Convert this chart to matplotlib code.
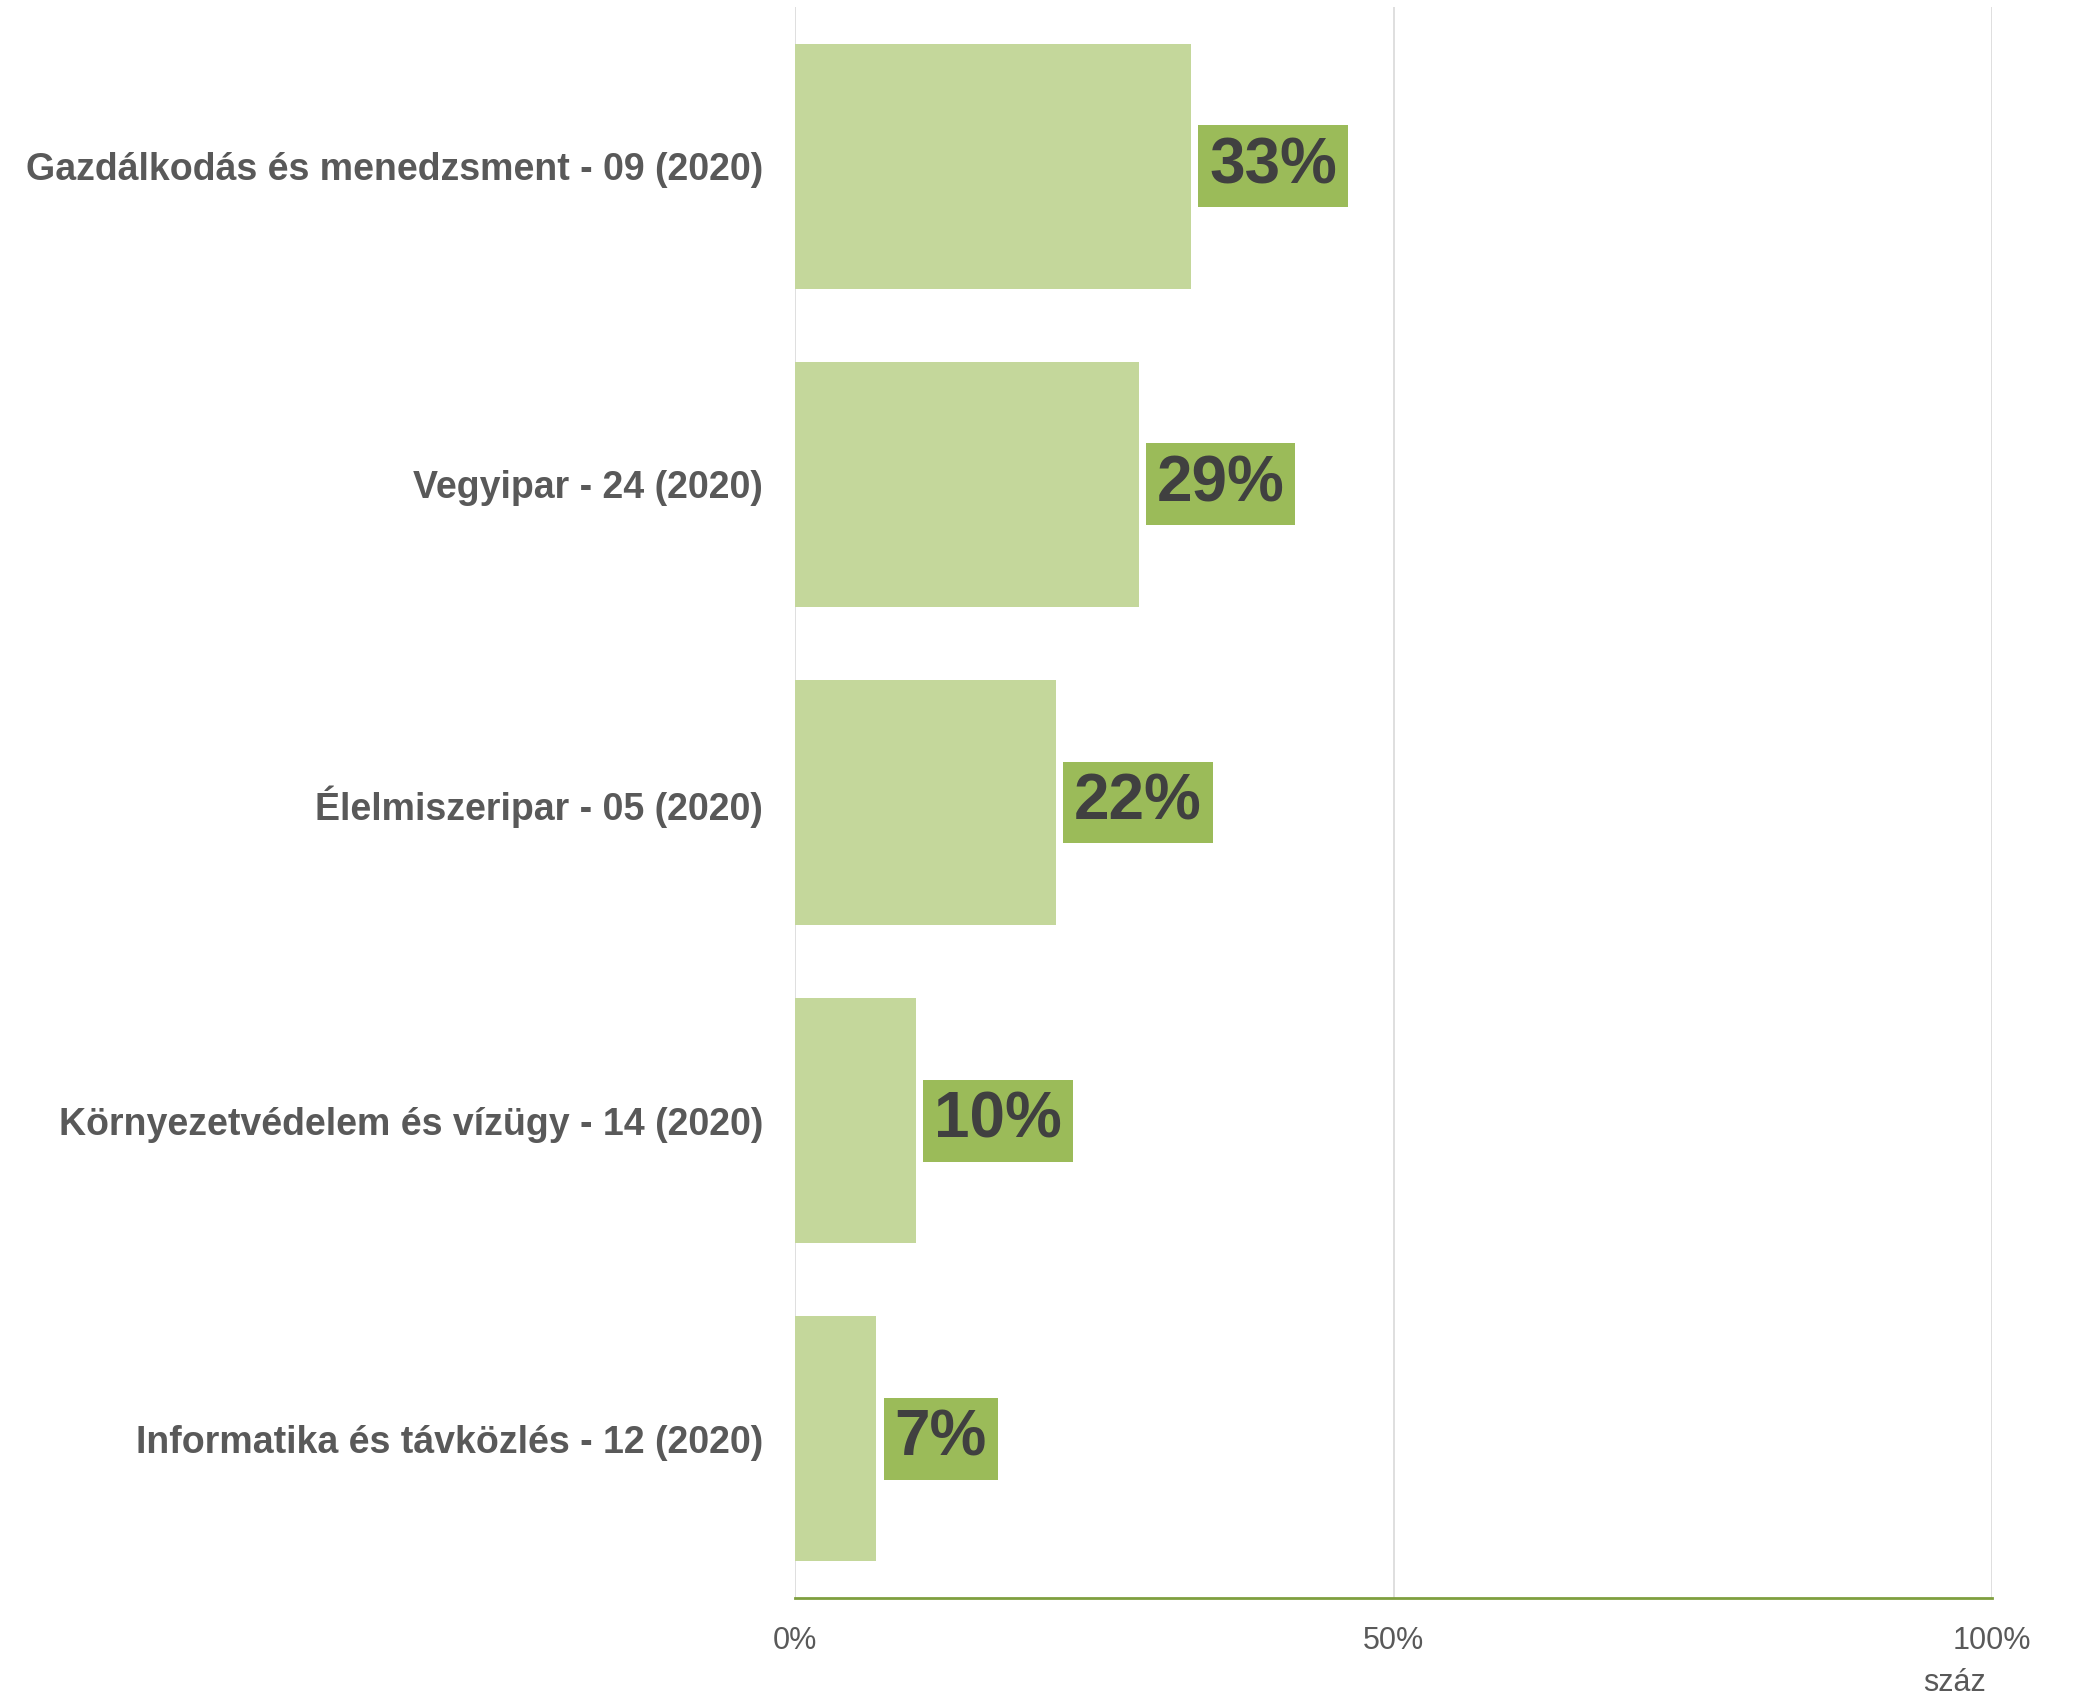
import matplotlib
matplotlib.use("Agg")
import matplotlib.pyplot as plt

categories = [
    "Gazdálkodás és menedzsment - 09 (2020)",
    "Vegyipar - 24 (2020)",
    "Élelmiszeripar - 05 (2020)",
    "Környezetvédelem és vízügy - 14 (2020)",
    "Informatika és távközlés - 12 (2020)",
]
values = [0.331, 0.287, 0.218, 0.101, 0.068]
value_labels = ["33%", "29%", "22%", "10%", "7%"]
xticks = [0, 0.5, 1.0]
xtick_labels = ["0%", "50%", "100%"]
axis_title = "száz"

plt.rcParams['font.family'] = ['Liberation Sans', 'DejaVu Sans']

W, H = 2078, 1697
fig = plt.figure(figsize=(W / 100, H / 100), dpi=100)
ax = fig.add_axes([795 / W, 1 - 1598 / H, (1992 - 795) / W, (1598 - 7) / H])

y = list(range(len(categories)))
ax.barh(y, values, height=0.77, color="#C4D79B", zorder=2)
ax.set_xlim(0, 1)
ax.set_ylim(len(categories) - 0.5, -0.5)
ax.set_yticks(y)
ax.set_yticklabels(categories, fontsize=27, fontweight='bold', color="#595959")
ax.set_xticks(xticks)
ax.set_xticklabels(xtick_labels, fontsize=22, color="#595959")
ax.tick_params(axis='y', length=0, pad=23)
ax.tick_params(axis='x', length=0, pad=20)

ax.grid(axis='x', color="#D9D9D9", linewidth=1.2, zorder=0)
ax.set_axisbelow(True)
for s in ["top", "right", "left"]:
    ax.spines[s].set_visible(False)
ax.spines["bottom"].set_color("#7F9F3F")
ax.spines["bottom"].set_linewidth(2)
ax.spines["bottom"].set_zorder(3)

for yi, v, lab in zip(y, values, value_labels):
    ax.annotate(lab, xy=(v, yi), xytext=(13, 0), textcoords='offset points',
                ha='left', va='center', fontsize=46, fontweight='bold', color="#404040",
                bbox=dict(boxstyle='square,pad=0.17', facecolor="#9BBB59", edgecolor='none'),
                zorder=4)

fig.text(1986 / W, 1 - 1683 / H, axis_title, ha='right', va='center', fontsize=22, color="#595959")

fig.savefig("out.png", dpi=100, facecolor='white')
